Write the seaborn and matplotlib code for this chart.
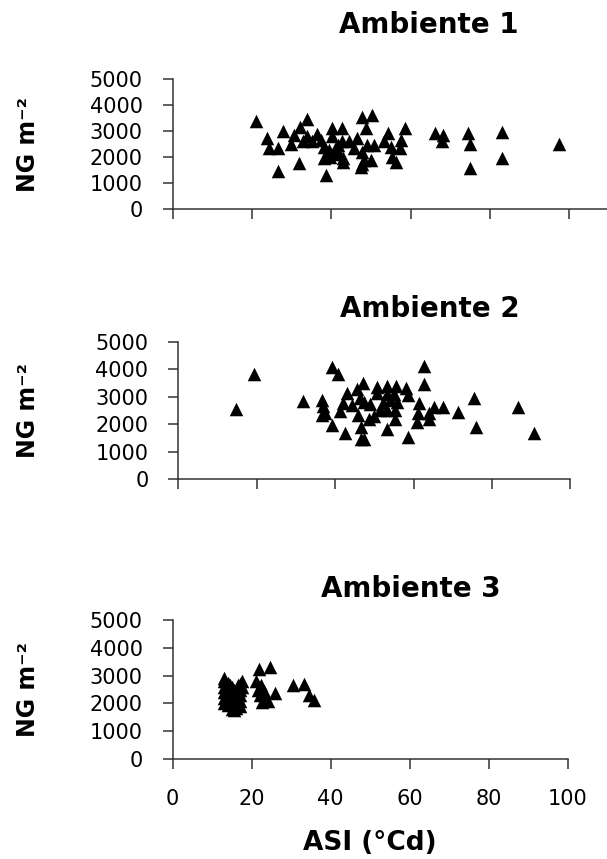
import matplotlib
matplotlib.use("Agg")
import matplotlib.pyplot as plt
import seaborn as sns
import pandas as pd

# ASI (°Cd) and number of grains per m2 for each environment
asi_amb1 = [21.0, 23.8, 24.3, 26.5, 26.5, 27.8, 29.9, 30.5, 31.8, 32.2, 33.8, 33.8,
            32.8, 35.2, 36.5, 37.5, 38.2, 38.6, 38.1, 40.3, 40.3, 39.4, 40.7, 41.6,
            42.8, 42.8, 43.0, 43.0, 44.5, 45.8, 46.6, 47.7, 47.7, 47.8, 48.7, 49.1,
            50.0, 50.4, 50.8, 47.5, 39.8, 41.0, 42.0, 48.3, 54.2, 53.4, 55.1, 55.3,
            56.3, 57.6, 58.5, 57.4, 66.1, 67.8, 68.2, 74.4, 75.0, 75.0, 83.0, 83.0,
            97.5]
ng_amb1 = [3400, 2720, 2330, 2330, 1470, 3010, 2500, 2850, 1780, 3170, 3450, 2800,
           2600, 2600, 2900, 2650, 2400, 1300, 1950, 3100, 2800, 2270, 2100, 2450,
           3100, 2600, 1950, 1800, 2600, 2330, 2720, 3550, 1750, 2200, 3100, 2450,
           1880, 3620, 2450, 1600, 2000, 2300, 2150, 1900, 2910, 2600, 2400, 2000,
           1820, 2650, 3100, 2330, 2940, 2600, 2850, 2910, 2500, 1560, 2970, 1950,
           2500]

asi_amb2 = [14.7, 19.4, 31.9, 36.7, 37.0, 37.4, 36.7, 39.3, 39.3, 40.7, 41.3, 41.9,
            42.6, 43.0, 44.2, 45.5, 45.9, 46.4, 46.7, 46.7, 47.4, 47.2, 47.4, 48.7,
            48.9, 50.6, 50.6, 49.9, 51.5, 52.3, 53.2, 53.2, 53.2, 53.3, 54.0, 54.9,
            55.3, 55.3, 55.5, 55.7, 58.1, 58.7, 58.7, 60.8, 61.2, 61.5, 62.8, 62.8,
            64.0, 64.0, 65.2, 67.4, 71.4, 75.4, 75.9, 86.7, 90.7]
ng_amb2 = [2550, 3830, 2860, 2880, 2650, 2400, 2350, 1970, 4070, 3830, 2500, 2760,
           1670, 3130, 2700, 3270, 2350, 2950, 1910, 1450, 1450, 3510, 2800, 2180,
           2750, 3370, 3130, 2300, 2520, 2760, 3390, 3100, 2520, 1820, 2880, 3100,
           2520, 2180, 3390, 2800, 3310, 3070, 1530, 2100, 2400, 2790, 4120, 3470,
           2400, 2180, 2640, 2640, 2460, 2950, 1910, 2640, 1670]

asi_amb3 = [13.0, 13.0, 13.0, 13.0, 13.0, 13.0, 13.5, 13.5, 13.5, 13.5,
            14.0, 14.0, 14.0, 14.0, 14.0, 14.5, 14.5, 14.5, 14.5,
            15.0, 15.0, 15.0, 15.0, 15.0, 15.5, 15.5, 15.5, 15.5, 15.5,
            16.0, 16.0, 16.0, 16.0, 16.5, 16.5, 16.5, 16.5,
            17.0, 17.0, 17.0, 17.0, 17.0, 17.5, 17.5,
            21.8, 24.7, 21.0, 21.5, 22.0, 23.0, 24.0, 25.9, 30.5, 33.2, 34.4, 35.7,
            22.3, 23.2, 22.5]
ng_amb3 = [2000, 2200, 2400, 2600, 2800, 2900, 2100, 2300, 2500, 2700,
           1950, 2150, 2350, 2550, 2750, 2050, 2250, 2450, 2650,
           1800, 2000, 2200, 2400, 2600, 1750, 1900, 2100, 2300, 2500,
           1850, 2050, 2250, 2450, 2000, 2200, 2400, 2650,
           1900, 2100, 2300, 2500, 2700, 2600, 2800,
           3250, 3300, 2800, 2500, 2320, 2140, 2080, 2380, 2650, 2700, 2300, 2140,
           2650, 2450, 2050]

titles = ["Ambiente 1", "Ambiente 2", "Ambiente 3"]
y_ticks = [0, 1000, 2000, 3000, 4000, 5000]
x_ticks = [0, 20, 40, 60, 80, 100]

sns.set_style("ticks")
plt.rcParams["font.family"] = ["DejaVu Sans"]
plt.rcParams["text.color"] = "black"
plt.rcParams["xtick.color"] = "black"
plt.rcParams["ytick.color"] = "black"

W, H = 607, 859
fig = plt.figure(figsize=(W / 100, H / 100), dpi=100)

# panel boxes in pixels: left, right, top (y=5000), bottom (y=0), x max
boxes = [
    (172.5, 607.0, 79.0, 209.0, 109.5),
    (178.3, 570.3, 341.8, 479.3, 100.0),
    (172.7, 567.7, 620.0, 759.0, 100.0),
]
title_pos = [(429, 33.3), (430, 316.7), (411, 597.0)]
series = [(asi_amb1, ng_amb1), (asi_amb2, ng_amb2), (asi_amb3, ng_amb3)]
axis_col = "#333333"

for i, ((l, r, t, b, xmax), (xs, ys)) in enumerate(zip(boxes, series)):
    ax = fig.add_axes([l / W, 1 - b / H, (r - l) / W, (b - t) / H])
    df = pd.DataFrame({"ASI": xs, "NG": ys})
    sns.scatterplot(data=df, x="ASI", y="NG", ax=ax, marker="^", s=95,
                    color="black", linewidth=0, clip_on=False)
    ax.set_xlim(0, xmax)
    ax.set_ylim(0, 5000)
    ax.set_xticks(x_ticks)
    ax.set_yticks(y_ticks)
    ax.set_xlabel("")
    ax.set_ylabel("")
    sns.despine(ax=ax)
    for side in ("left", "bottom"):
        ax.spines[side].set_color(axis_col)
        ax.spines[side].set_linewidth(1.1)
    ax.tick_params(axis="both", direction="out", length=7.5, width=1.1,
                   color=axis_col, labelcolor="black", labelsize=15)
    ax.tick_params(axis="y", pad=14)
    ax.tick_params(axis="x", pad=14)
    if i < 2:
        ax.set_xticklabels([])
    tx, ty = title_pos[i]
    fig.text(tx / W, 1 - ty / H, titles[i], ha="center", va="baseline",
             fontsize=20, fontweight="bold", color="black")
    fig.text(28 / W, 1 - ((t + b) / 2) / H, "NG m\u207b\u00b2",
             rotation=90, ha="center", va="center", fontsize=17,
             fontweight="bold", color="black")

fig.text(370 / W, 1 - 843 / H, "ASI (°Cd)", ha="center", va="center",
         fontsize=19, fontweight="bold", color="black")

fig.savefig("out.png", dpi=100)
